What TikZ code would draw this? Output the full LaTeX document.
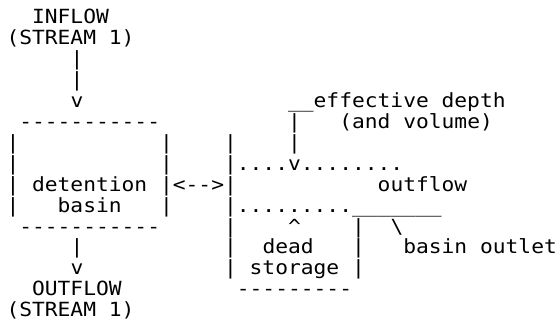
\documentclass[tikz,border=0pt]{standalone}
\usepackage{fontspec}
\newfontfamily\ascfont[FakeStretch=1.09]{DejaVu Sans Mono}
\newcommand\dd{-\kern0pt}
\tikzset{asc/.style={anchor=base west, inner sep=0pt, outer sep=0pt, font=\ascfont\fontsize{19.5pt}{20pt}\selectfont, text=black}}
% name, row, column, text
\newcommand\tx[4]{\node[asc] (#1) at ({6.5pt+12.8pt*#3},{-23.7pt-20.93pt*#2}) {#4};}
\begin{document}
\begin{tikzpicture}
\useasboundingbox (0,0) rectangle (559pt,-324pt);
% inflow
\tx{inA}{0}{2}{INFLOW}
\tx{inB}{1}{0}{(STREAM 1)}
\tx{inC}{2}{5}{|}
\tx{inD}{3}{5}{|}
\tx{inE}{4}{5}{v}
% detention basin box
\tx{boxT}{5}{1}{\dd\dd\dd\dd\dd\dd\dd\dd\dd\dd\dd}
\tx{bL1}{6}{0}{|}
\tx{bR1}{6}{12}{|}
\tx{bL2}{7}{0}{|}
\tx{bR2}{7}{12}{|}
\tx{bL3}{8}{0}{|}
\tx{det}{8}{2}{detention}
\tx{link}{8}{12}{|<\dd\dd>|}
\tx{bL4}{9}{0}{|}
\tx{bas}{9}{4}{basin}
\tx{bR4}{9}{12}{|}
\tx{boxB}{10}{1}{\dd\dd\dd\dd\dd\dd\dd\dd\dd\dd\dd}
% outflow
\tx{outA}{11}{5}{|}
\tx{outB}{12}{5}{v}
\tx{outC}{13}{2}{OUTFLOW}
\tx{outD}{14}{0}{(STREAM 1)}
% storage side
\tx{eff}{4}{22}{\_\_effective depth}
\tx{effA}{5}{22}{|}
\tx{vol}{5}{26}{(and volume)}
\tx{sL1}{6}{17}{|}
\tx{effB}{6}{22}{|}
\tx{lvlA}{7}{17}{|....v........}
\tx{ofl}{8}{29}{outflow}
\tx{lvlB}{9}{17}{|.........\_\_\_\_\_\_\_}
\tx{sL3}{10}{17}{|}
\tx{up}{10}{22}{\textasciicircum}
\tx{sR1}{10}{27}{|}
\tx{bsl}{10}{30}{\textbackslash}
\tx{sL4}{11}{17}{|}
\tx{dead}{11}{20}{dead}
\tx{sR2}{11}{27}{|}
\tx{outl}{11}{31}{basin outlet}
\tx{sL5}{12}{17}{|}
\tx{stor}{12}{19}{storage}
\tx{sR3}{12}{27}{|}
\tx{sB}{13}{18}{\dd\dd\dd\dd\dd\dd\dd\dd\dd}
\end{tikzpicture}
\end{document}
